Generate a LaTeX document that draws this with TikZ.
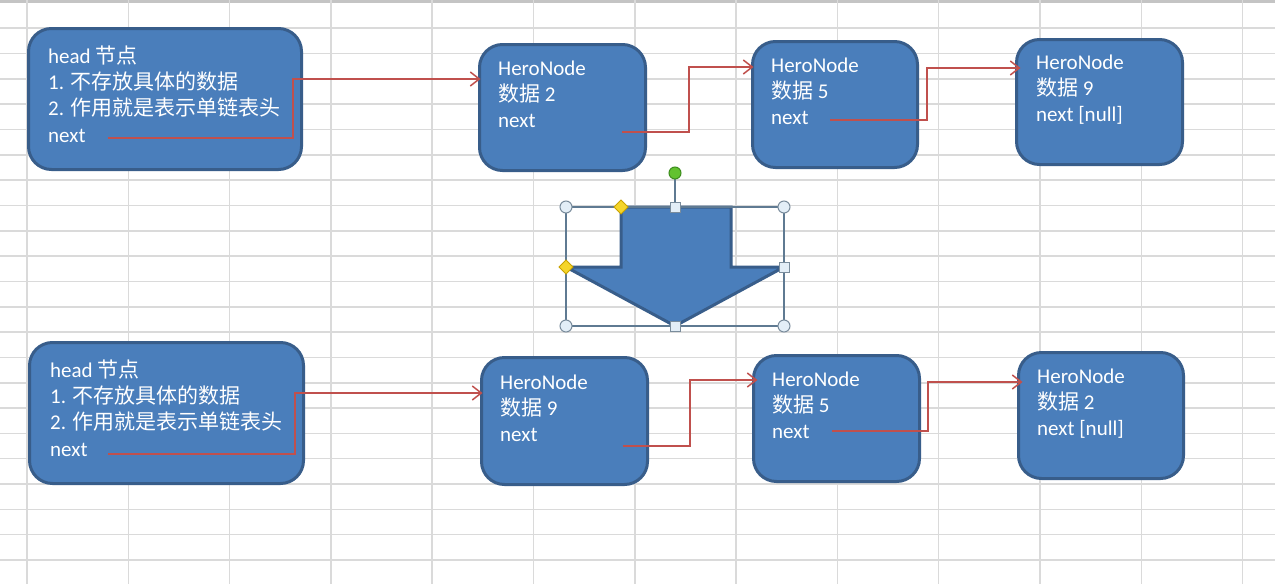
\documentclass[tikz,border=0pt]{standalone}
\usepackage{fontspec}
\setmainfont{Carlito}
\newfontfamily\cjk{Noto Sans CJK SC}
\usetikzlibrary{arrows.meta,calc}
\definecolor{boxfill}{HTML}{4A7EBB}
\definecolor{boxline}{HTML}{385D8A}
\definecolor{linkred}{HTML}{C0504D}
\definecolor{gridc}{HTML}{DADADA}
\definecolor{selc}{HTML}{5F7A92}
\definecolor{handlefill}{HTML}{E3EEF7}
\definecolor{handleline}{HTML}{7A8C9C}
\definecolor{yel}{HTML}{F5D52A}
\definecolor{yelline}{HTML}{C9A200}
\definecolor{grn}{HTML}{62C22F}
\definecolor{grnline}{HTML}{3E8E1F}
\begin{document}
\begin{tikzpicture}[x=1pt,y=-1pt,
  box/.style={draw=boxline, fill=boxfill, line width=3pt, rounded corners=23pt, inner sep=0pt, outer sep=0pt},
  txt/.style={text=white, font=\fontsize{21}{26.3}\selectfont, align=left, anchor=base west, inner sep=0pt},
  link/.style={draw=linkred, line width=1.5pt, -{Straight Barb[length=9pt,width=14pt]}},
  gridline/.style={draw=gridc, line width=1.5pt},
  bigarrow/.style={draw=boxline, fill=boxfill, line width=3pt, line join=miter},
  sel/.style={draw=selc, line width=1.2pt},
  hcirc/.style={draw=handleline, fill=handlefill, line width=1pt},
  hsq/.style={draw=handleline, fill=handlefill, line width=1pt},
  ydia/.style={draw=yelline, fill=yel, line width=0.8pt},
  gdot/.style={draw=grnline, fill=grn, line width=1pt}]
\path[use as bounding box, fill=white] (0,0) rectangle (1275,584);
% grid
\draw[draw=gridc!90!black, line width=3pt] (0,1.5) -- (1275,1.5);
\foreach \k in {0,...,12} \draw[gridline] ({27+101.3*\k},0) -- ++(0,584);
\foreach \k in {1,...,22} \draw[gridline] (0,{2.8+25.33*\k}) -- ++(1275,0);
% boxes
\node[box, minimum width=273pt, minimum height=141pt] (h1) at (165,99) {};
\node[box, minimum width=166pt, minimum height=126pt] (n2) at (562.5,107.5) {};
\node[box, minimum width=165pt, minimum height=126pt] (n5) at (835,104.5) {};
\node[box, minimum width=166pt, minimum height=125pt] (n9) at (1099.5,102) {};
\node[box, minimum width=274pt, minimum height=141pt] (h2) at (166.5,413) {};
\node[box, minimum width=166pt, minimum height=127pt] (m9) at (564.5,421) {};
\node[box, minimum width=166pt, minimum height=126pt] (m5) at (836.5,418.5) {};
\node[box, minimum width=165pt, minimum height=126pt] (m2) at (1101,415.5) {};
% texts (anchored at the baseline of their last line)
\node[txt] (th1) at (48,142) {head {\cjk 节点}\\1. {\cjk 不存放具体的数据}\\2. {\cjk 作用就是表示单链表头}\\next};
\node[txt] (tn2) at (498,127.6) {HeroNode\\{\cjk 数据} 2\\next};
\node[txt] (tn5) at (771,124.6) {HeroNode\\{\cjk 数据} 5\\next};
\node[txt] (tn9) at (1036,121.6) {HeroNode\\{\cjk 数据} 9\\next [null]};
\node[txt] (th2) at (50,456) {head {\cjk 节点}\\1. {\cjk 不存放具体的数据}\\2. {\cjk 作用就是表示单链表头}\\next};
\node[txt] (tm9) at (500,441.6) {HeroNode\\{\cjk 数据} 9\\next};
\node[txt] (tm5) at (772,438.6) {HeroNode\\{\cjk 数据} 5\\next};
\node[txt] (tm2) at (1037,435.6) {HeroNode\\{\cjk 数据} 2\\next [null]};
% connector ends
\coordinate (s1) at (108,138);
\coordinate (e1) at ([xshift=1pt]n2.west |- 0,79);
\coordinate (s2) at (622,132);
\coordinate (e2) at ([xshift=1pt]n5.west |- 0,67);
\coordinate (s3) at (830,120);
\coordinate (e3) at ([xshift=4pt]n9.west |- 0,68);
\coordinate (s4) at (108,454);
\coordinate (e4) at ([xshift=1pt]m9.west |- 0,393);
\coordinate (s5) at (623,446);
\coordinate (e5) at ([xshift=4pt]m5.west |- 0,380);
\coordinate (s6) at (832,431);
\coordinate (e6) at ([xshift=4pt]m2.west |- 0,382);
\draw[link] (s1) -- (293,138) |- (e1);
\draw[link] (s2) -- (689,132) |- (e2);
\draw[link] (s3) -- (927,120) |- (e3);
\draw[link] (s4) -- (295,454) |- (e4);
\draw[link] (s5) -- (690,446) |- (e5);
\draw[link] (s6) -- (928,431) |- (e6);
% big down arrow with selection handles
\draw[bigarrow] (621,207) -- (731,207) -- (731,267) -- (784,267) -- (675,326) -- (566,267) -- (621,267) -- cycle;
\draw[sel] (566,207) rectangle (784,326);
\draw[sel] (675,173) -- (675,207);
\foreach \x/\y in {566/207,784/207,566/326,784/326} \draw[hcirc] (\x,\y) circle (6);
\foreach \x/\y in {675/207,784/267,675/326} \draw[hsq] (\x-5,\y-5) rectangle (\x+5,\y+5);
\foreach \x/\y in {621/207,566/267} \draw[ydia] (\x-7,\y) -- (\x,\y-7) -- (\x+7,\y) -- (\x,\y+7) -- cycle;
\draw[gdot] (675,173) circle (6);
\end{tikzpicture}
\end{document}
